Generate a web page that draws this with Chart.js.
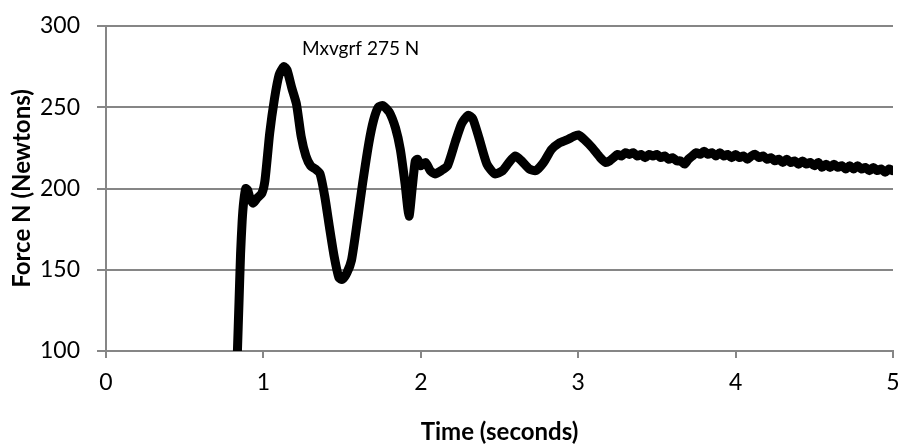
<!DOCTYPE html>
<html>
<head>
<meta charset="utf-8">
<script src="https://cdn.jsdelivr.net/npm/chart.js@4/dist/chart.umd.min.js"></script>
<style>
    html, body { margin: 0; padding: 0; background: #fff; }
    #wrap { width: 900px; height: 448px; }
</style>
</head>
<body>
<div id="wrap"><canvas id="force-chart"></canvas></div>
<script>
// Ground reaction force trace
const timeSeconds = [
    0.835, 0.845, 0.855, 0.865, 0.875, 0.888, 0.900, 0.915, 0.935, 0.960,
    0.990, 1.010, 1.040, 1.070, 1.100, 1.130, 1.150, 1.180, 1.210, 1.240,
    1.270, 1.300, 1.330, 1.360, 1.390, 1.420, 1.450, 1.480, 1.500, 1.530,
    1.560, 1.600, 1.630, 1.670, 1.700, 1.730, 1.760, 1.800, 1.840, 1.870,
    1.900, 1.925, 1.945, 1.965, 1.980, 2.000, 2.030, 2.060, 2.090, 2.130,
    2.170, 2.220, 2.260, 2.300, 2.330, 2.370, 2.420, 2.470, 2.520, 2.560,
    2.600, 2.640, 2.690, 2.730, 2.780, 2.830, 2.880, 2.930, 2.970, 3.000,
    3.040, 3.090, 3.140,
    // noisy plateau
    3.175, 3.200, 3.225, 3.250, 3.275, 3.300, 3.325, 3.350, 3.375, 3.400,
    3.425, 3.450, 3.475, 3.500, 3.525, 3.550, 3.575, 3.600, 3.625, 3.650,
    3.675, 3.700, 3.725, 3.750, 3.775, 3.800, 3.825, 3.850, 3.875, 3.900,
    3.925, 3.950, 3.975, 4.000, 4.025, 4.050, 4.075, 4.100, 4.125, 4.150,
    4.175, 4.200, 4.225, 4.250, 4.275, 4.300, 4.325, 4.350, 4.375, 4.400,
    4.425, 4.450, 4.475, 4.500, 4.525, 4.550, 4.575, 4.600, 4.625, 4.650,
    4.675, 4.700, 4.725, 4.750, 4.775, 4.800, 4.825, 4.850, 4.875, 4.900,
    4.925, 4.950, 4.975, 4.995
];
const forceNewtons = [
    100, 130, 160, 180, 192, 200, 199, 194, 191, 194,
    197, 205, 234, 255, 270, 275, 273, 262, 252, 232,
    220, 214, 212, 209, 195, 176, 158, 145, 144, 148,
    156, 182, 203, 228, 242, 250, 251, 247, 237, 224,
    203, 183, 200, 217, 218, 214, 216, 211, 209, 211,
    214, 229, 240, 245, 243, 231, 215, 209, 211, 216,
    220, 217, 212, 211, 216, 224, 228, 230, 232, 233,
    230, 225, 219,
    216, 217, 219, 221, 220, 222, 221, 222, 220, 221,
    219, 221, 220, 221, 219, 220, 218, 219, 217, 217,
    215, 218, 220, 222, 221, 223, 221, 222, 220, 222,
    220, 221, 219, 221, 219, 220, 218, 220, 221, 219,
    220, 218, 219, 217, 218, 216, 218, 216, 217, 215,
    217, 215, 216, 214, 216, 213, 215, 213, 215, 213,
    214, 212, 214, 212, 214, 212, 213, 211, 213, 211,
    212, 210, 212, 211
];
const xTicks = [0, 1, 2, 3, 4, 5];
const yTicks = [100, 150, 200, 250, 300];
const peakLabel = 'Mxvgrf 275 N';
const peakLabelAt = [1.245, 286];

const axisGrey = '#868686';
const fontFamily = 'Lato, "Open Sans", sans-serif';

const points = timeSeconds.map((t, i) => ({ x: t, y: forceNewtons[i] }));

// Text note next to the first peak
const peakNote = {
    id: 'peakNote',
    afterDatasetsDraw(chart) {
        const { ctx, scales } = chart;
        const px = scales.x.getPixelForValue(peakLabelAt[0]);
        const py = scales.y.getPixelForValue(peakLabelAt[1]);
        ctx.save();
        ctx.font = '19px ' + fontFamily;
        ctx.fillStyle = '#000';
        ctx.textAlign = 'left';
        ctx.textBaseline = 'middle';
        ctx.fillText(peakLabel, px, py);
        ctx.restore();
    }
};

new Chart(document.getElementById('force-chart').getContext('2d'), {
    type: 'scatter',
    data: {
        datasets: [{
            label: 'Force',
            data: points,
            showLine: true,
            borderColor: '#000',
            borderWidth: 9,
            borderJoinStyle: 'round',
            borderCapStyle: 'round',
            tension: 0.2,
            pointRadius: 0,
            fill: false
        }]
    },
    options: {
        responsive: true,
        maintainAspectRatio: false,
        animation: false,
        layout: { padding: { left: 0, top: 26, right: 7, bottom: 0 } },
        plugins: {
            legend: { display: false },
            tooltip: { enabled: false }
        },
        scales: {
            x: {
                type: 'linear',
                min: 0,
                max: 5,
                afterFit: (scale) => {
                    scale.height = 97;
                    scale.paddingLeft = 0;
                    scale.paddingRight = 0;
                },
                afterBuildTicks: (scale) => { scale.ticks = xTicks.map(v => ({ value: v })); },
                grid: { drawOnChartArea: false, drawTicks: true, tickLength: 7, color: axisGrey, lineWidth: 2 },
                border: { display: true, color: axisGrey, width: 2 },
                ticks: { color: '#000', padding: 11, font: { family: fontFamily, size: 23 } },
                title: {
                    display: true,
                    text: 'Time (seconds)',
                    color: '#000',
                    padding: { top: 0, bottom: 1 },
                    font: { family: fontFamily, size: 24, weight: 'bold' }
                }
            },
            y: {
                min: 100,
                max: 300,
                afterFit: (scale) => {
                    scale.width = 106;
                    scale.paddingTop = 0;
                    scale.paddingBottom = 0;
                },
                afterBuildTicks: (scale) => { scale.ticks = yTicks.map(v => ({ value: v })); },
                grid: { drawOnChartArea: true, drawTicks: true, tickLength: 9, color: axisGrey, lineWidth: 2 },
                border: { display: true, color: axisGrey, width: 2 },
                ticks: { color: '#000', padding: 17, font: { family: fontFamily, size: 23 } },
                title: {
                    display: true,
                    text: 'Force N (Newtons)',
                    color: '#000',
                    padding: { top: 8, bottom: 0 },
                    font: { family: fontFamily, size: 24, weight: 'bold' }
                }
            }
        }
    },
    plugins: [peakNote]
});
</script>
</body>
</html>
